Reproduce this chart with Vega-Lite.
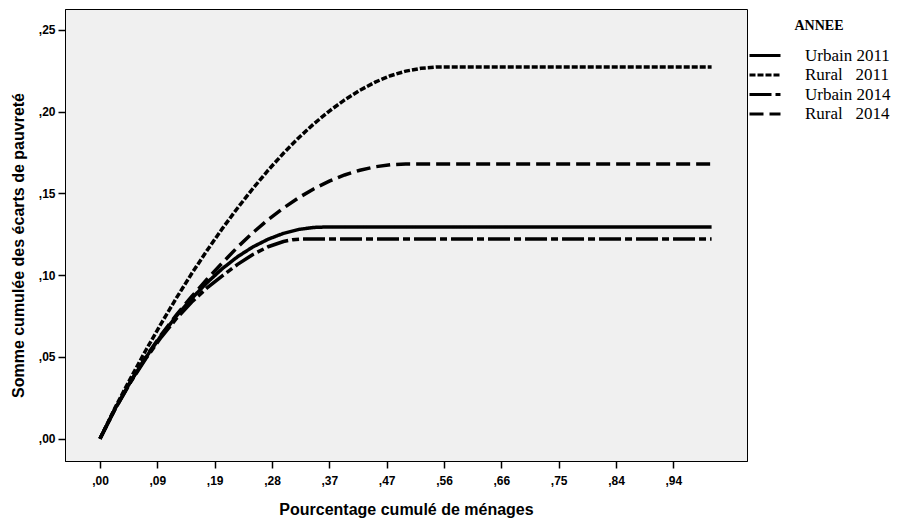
{
  "$schema": "https://vega.github.io/schema/vega-lite/v6.json",
  "width": 682,
  "height": 452,
  "autosize": "none",
  "padding": {"left": 65, "top": 9, "right": 158, "bottom": 64},
  "background": "white",
  "config": {
    "view": {"fill": "#f0f0f0", "stroke": "black", "strokeWidth": 1},
    "axis": {
      "grid": false,
      "domainColor": "black",
      "tickColor": "black",
      "tickSize": 7,
      "tickWidth": 1.5,
      "labelColor": "black",
      "titleColor": "black",
      "labelFont": "Liberation Sans",
      "labelFontWeight": "bold",
      "labelFontSize": 12,
      "titleFont": "Liberation Sans",
      "titleFontWeight": "bold",
      "titleFontSize": 16,
      "labelFlush": false,
      "labelOverlap": false
    }
  },
  "data": {
    "values": [
      {"p": 0, "y": 0, "ANNEE": "Rural 2011"},
      {"p": 0.025, "y": 0.0192, "ANNEE": "Rural 2011"},
      {"p": 0.05, "y": 0.0370, "ANNEE": "Rural 2011"},
      {"p": 0.075, "y": 0.0541, "ANNEE": "Rural 2011"},
      {"p": 0.1, "y": 0.0704, "ANNEE": "Rural 2011"},
      {"p": 0.125, "y": 0.0861, "ANNEE": "Rural 2011"},
      {"p": 0.15, "y": 0.1010, "ANNEE": "Rural 2011"},
      {"p": 0.175, "y": 0.1151, "ANNEE": "Rural 2011"},
      {"p": 0.2, "y": 0.1285, "ANNEE": "Rural 2011"},
      {"p": 0.225, "y": 0.1411, "ANNEE": "Rural 2011"},
      {"p": 0.25, "y": 0.1530, "ANNEE": "Rural 2011"},
      {"p": 0.275, "y": 0.1642, "ANNEE": "Rural 2011"},
      {"p": 0.3, "y": 0.1746, "ANNEE": "Rural 2011"},
      {"p": 0.325, "y": 0.1841, "ANNEE": "Rural 2011"},
      {"p": 0.35, "y": 0.1927, "ANNEE": "Rural 2011"},
      {"p": 0.375, "y": 0.2004, "ANNEE": "Rural 2011"},
      {"p": 0.4, "y": 0.2072, "ANNEE": "Rural 2011"},
      {"p": 0.425, "y": 0.2131, "ANNEE": "Rural 2011"},
      {"p": 0.45, "y": 0.2181, "ANNEE": "Rural 2011"},
      {"p": 0.475, "y": 0.2220, "ANNEE": "Rural 2011"},
      {"p": 0.5, "y": 0.2248, "ANNEE": "Rural 2011"},
      {"p": 0.525, "y": 0.2265, "ANNEE": "Rural 2011"},
      {"p": 0.55, "y": 0.2273, "ANNEE": "Rural 2011"},
      {"p": 0.57, "y": 0.2274, "ANNEE": "Rural 2011"},
      {"p": 1.0, "y": 0.2274, "ANNEE": "Rural 2011"},

      {"p": 0, "y": 0, "ANNEE": "Rural 2014"},
      {"p": 0.025, "y": 0.0185, "ANNEE": "Rural 2014"},
      {"p": 0.05, "y": 0.0350, "ANNEE": "Rural 2014"},
      {"p": 0.075, "y": 0.0500, "ANNEE": "Rural 2014"},
      {"p": 0.1, "y": 0.0635, "ANNEE": "Rural 2014"},
      {"p": 0.125, "y": 0.0758, "ANNEE": "Rural 2014"},
      {"p": 0.15, "y": 0.0870, "ANNEE": "Rural 2014"},
      {"p": 0.175, "y": 0.0975, "ANNEE": "Rural 2014"},
      {"p": 0.2, "y": 0.1075, "ANNEE": "Rural 2014"},
      {"p": 0.225, "y": 0.1172, "ANNEE": "Rural 2014"},
      {"p": 0.25, "y": 0.1260, "ANNEE": "Rural 2014"},
      {"p": 0.275, "y": 0.1340, "ANNEE": "Rural 2014"},
      {"p": 0.3, "y": 0.1411, "ANNEE": "Rural 2014"},
      {"p": 0.325, "y": 0.1474, "ANNEE": "Rural 2014"},
      {"p": 0.35, "y": 0.1529, "ANNEE": "Rural 2014"},
      {"p": 0.375, "y": 0.1575, "ANNEE": "Rural 2014"},
      {"p": 0.4, "y": 0.1613, "ANNEE": "Rural 2014"},
      {"p": 0.425, "y": 0.1642, "ANNEE": "Rural 2014"},
      {"p": 0.45, "y": 0.1663, "ANNEE": "Rural 2014"},
      {"p": 0.475, "y": 0.1676, "ANNEE": "Rural 2014"},
      {"p": 0.5, "y": 0.1680, "ANNEE": "Rural 2014"},
      {"p": 1.0, "y": 0.1680, "ANNEE": "Rural 2014"},

      {"p": 0, "y": 0, "ANNEE": "Urbain 2011"},
      {"p": 0.025, "y": 0.0185, "ANNEE": "Urbain 2011"},
      {"p": 0.05, "y": 0.0350, "ANNEE": "Urbain 2011"},
      {"p": 0.075, "y": 0.0497, "ANNEE": "Urbain 2011"},
      {"p": 0.1, "y": 0.0630, "ANNEE": "Urbain 2011"},
      {"p": 0.125, "y": 0.0750, "ANNEE": "Urbain 2011"},
      {"p": 0.15, "y": 0.0858, "ANNEE": "Urbain 2011"},
      {"p": 0.175, "y": 0.0954, "ANNEE": "Urbain 2011"},
      {"p": 0.2, "y": 0.1040, "ANNEE": "Urbain 2011"},
      {"p": 0.225, "y": 0.1113, "ANNEE": "Urbain 2011"},
      {"p": 0.25, "y": 0.1173, "ANNEE": "Urbain 2011"},
      {"p": 0.275, "y": 0.1220, "ANNEE": "Urbain 2011"},
      {"p": 0.3, "y": 0.1256, "ANNEE": "Urbain 2011"},
      {"p": 0.325, "y": 0.1280, "ANNEE": "Urbain 2011"},
      {"p": 0.35, "y": 0.1292, "ANNEE": "Urbain 2011"},
      {"p": 0.37, "y": 0.1295, "ANNEE": "Urbain 2011"},
      {"p": 1.0, "y": 0.1295, "ANNEE": "Urbain 2011"},

      {"p": 0, "y": 0, "ANNEE": "Urbain 2014"},
      {"p": 0.025, "y": 0.0183, "ANNEE": "Urbain 2014"},
      {"p": 0.05, "y": 0.0345, "ANNEE": "Urbain 2014"},
      {"p": 0.075, "y": 0.0490, "ANNEE": "Urbain 2014"},
      {"p": 0.1, "y": 0.0620, "ANNEE": "Urbain 2014"},
      {"p": 0.125, "y": 0.0735, "ANNEE": "Urbain 2014"},
      {"p": 0.15, "y": 0.0836, "ANNEE": "Urbain 2014"},
      {"p": 0.175, "y": 0.0922, "ANNEE": "Urbain 2014"},
      {"p": 0.2, "y": 0.0996, "ANNEE": "Urbain 2014"},
      {"p": 0.225, "y": 0.1066, "ANNEE": "Urbain 2014"},
      {"p": 0.25, "y": 0.1127, "ANNEE": "Urbain 2014"},
      {"p": 0.275, "y": 0.1174, "ANNEE": "Urbain 2014"},
      {"p": 0.3, "y": 0.1206, "ANNEE": "Urbain 2014"},
      {"p": 0.315, "y": 0.1217, "ANNEE": "Urbain 2014"},
      {"p": 0.33, "y": 0.1222, "ANNEE": "Urbain 2014"},
      {"p": 1.0, "y": 0.1222, "ANNEE": "Urbain 2014"}
    ]
  },
  "mark": {"type": "line", "color": "black", "strokeWidth": 3.5},
  "encoding": {
    "x": {
      "field": "p",
      "type": "quantitative",
      "scale": {"domain": [-0.0572, 1.0579], "nice": false, "zero": false},
      "axis": {
        "title": "Pourcentage cumulé de ménages",
        "values": [0, 0.09375, 0.1875, 0.28125, 0.375, 0.46875, 0.5625, 0.65625, 0.75, 0.84375, 0.9375],
        "labelExpr": "[',00',',09',',19',',28',',37',',47',',56',',66',',75',',84',',94'][round(datum.value/0.09375)]",
        "labelPadding": 7,
        "titlePadding": 15
      }
    },
    "y": {
      "field": "y",
      "type": "quantitative",
      "scale": {"domain": [-0.01364, 0.2628], "nice": false, "zero": false},
      "axis": {
        "title": "Somme cumulée des écarts de pauvreté",
        "values": [0, 0.05, 0.1, 0.15, 0.2, 0.25],
        "labelExpr": "replace(format(datum.value, '.2f'), '0.', ',')",
        "labelPadding": 3,
        "titlePadding": 12,
        "titleY": 236
      }
    },
    "strokeDash": {
      "field": "ANNEE",
      "type": "nominal",
      "scale": {
        "domain": ["Urbain 2011", "Rural 2011", "Urbain 2014", "Rural 2014"],
        "range": [[1, 0], [6, 2], [22, 4, 7, 4], [14, 6]]
      },
      "legend": {
        "title": "ANNEE",
        "orient": "none",
        "legendX": 683,
        "legendY": 10,
        "symbolType": "stroke",
        "symbolSize": 961,
        "symbolStrokeWidth": 3,
        "symbolStrokeColor": "black",
        "labelFont": "Liberation Serif",
        "labelFontSize": 17,
        "labelColor": "black",
        "labelOffset": 23,
        "clipHeight": 19,
        "rowPadding": 0.5,
        "labelExpr": "replace(datum.label, 'Rural ', 'Rural\u00a0\u00a0\u00a0')",
        "titleFont": "Liberation Serif",
        "titleFontSize": 14,
        "titleFontWeight": "bold",
        "titleColor": "black",
        "titleAnchor": "middle",
        "titlePadding": 13
      }
    }
  }
}
